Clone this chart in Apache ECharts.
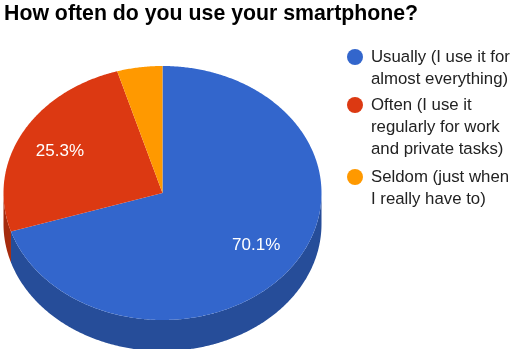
<!DOCTYPE html>
<html>
<head>
<meta charset="utf-8">
<style>html,body{margin:0;padding:0;background:#fff}#c{width:512px;height:349px}</style>
<script src="https://cdn.jsdelivr.net/npm/echarts@6/dist/echarts.min.js"></script>
</head>
<body>
<div id="c"></div>
<script>
var chartTitle = 'How often do you use your smartphone?';
var categories = [
  'Usually (I use it for\nalmost everything)',
  'Often (I use it\nregularly for work\nand private tasks)',
  'Seldom (just when\nI really have to)'
];
var shares = [70.1, 25.3, 4.6];
var shownLabels = ['70.1%', '25.3%', ''];
var topColors = ['#3366cc', '#dc3912', '#ff9900'];
var sideColors = ['#264d99', '#a52b0e', '#bf7300'];

var CX = 162.5, CY = 193, RX = 159, RY = 127, DEPTH = 31, LABEL_KX = 0.73, LABEL_KY = 0.70;
var legendTops = [24, 50, 144];

function pt(deg, dy) {
  var a = deg * Math.PI / 180;
  return [CX + RX * Math.sin(a), CY - RY * Math.cos(a) + (dy || 0)];
}
function arc(a0, a1, dy) {
  var out = [], n = Math.max(2, Math.ceil(Math.abs(a1 - a0) * 2));
  for (var i = 0; i <= n; i++) out.push(pt(a0 + (a1 - a0) * i / n, dy));
  return out;
}
var total = shares.reduce(function (s, v) { return s + v; }, 0);

function renderSlice(idx) {
  return function (params, api) {
    var before = 0;
    for (var i = 0; i < idx; i++) before += shares[i];
    var a0 = before / total * 360;
    var a1 = a0 + api.value(0) / total * 360;
    var children = [];
    var s0 = Math.max(a0, 90), s1 = Math.min(a1, 270);
    if (s1 > s0) {
      children.push({
        type: 'polygon',
        shape: { points: arc(s0, s1, 0).concat(arc(s1, s0, DEPTH)) },
        style: { fill: sideColors[idx] }
      });
    }
    children.push({
      type: 'polygon',
      shape: { points: [[CX, CY]].concat(arc(a0, a1, 0)) },
      style: { fill: topColors[idx] }
    });
    if (shownLabels[idx]) {
      var mid = (a0 + a1) / 2 * Math.PI / 180;
      children.push({
        type: 'text',
        z2: 10,
        style: {
          text: shownLabels[idx],
          x: CX + RX * LABEL_KX * Math.sin(mid),
          y: CY - RY * LABEL_KY * Math.cos(mid),
          align: 'center', verticalAlign: 'middle',
          fill: '#ffffff',
          font: '17px "Liberation Sans", Arial, sans-serif'
        }
      });
    }
    return { type: 'group', children: children };
  };
}

var chart = echarts.init(document.getElementById('c'), null, { renderer: 'canvas' });
chart.setOption({
  animation: false,
  backgroundColor: '#ffffff',
  title: {
    text: chartTitle, left: 4, top: 4, padding: 0,
    textStyle: { fontFamily: '"Liberation Sans", Arial, sans-serif', fontWeight: 'bold', fontSize: 21.3, color: '#000000' }
  },
  legend: categories.map(function (name, i) {
    return {
      data: [name],
      orient: 'vertical', left: 347, top: legendTops[i], padding: 0,
      itemWidth: 16, itemHeight: 16, icon: 'circle', selectedMode: false,
      textStyle: {
        fontFamily: '"Liberation Sans", Arial, sans-serif',
        fontSize: 16.8, lineHeight: 22, color: '#222222', padding: [0, 0, 0, 3]
      },
      formatter: function (n) {
        var lines = n.split('\n').length, pad = '';
        for (var k = 0; k < lines - 1; k++) pad += ' \n';
        return pad + n;
      }
    };
  }),
  series: categories.map(function (name, i) {
    return {
      type: 'custom',
      name: name,
      coordinateSystem: 'none',
      silent: true,
      itemStyle: { color: topColors[i] },
      renderItem: renderSlice(i),
      data: [[shares[i]]]
    };
  })
});
</script>
</body>
</html>
